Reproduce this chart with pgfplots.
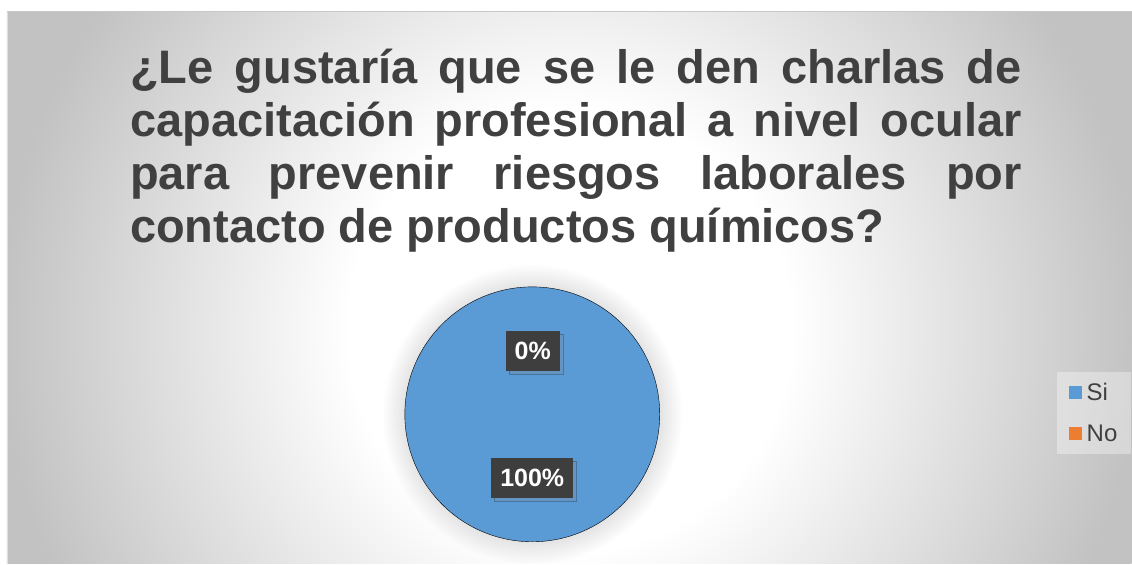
\documentclass[border=0pt]{standalone}
\usepackage{pgfplots}
\pgfplotsset{compat=1.18}
\usepackage{fontspec}
\setmainfont{Liberation Sans}
\usetikzlibrary{shadows,fadings}

\definecolor{siblue}{HTML}{5B9BD5}
\definecolor{noorange}{HTML}{ED7D31}
\definecolor{txt}{HTML}{404040}
\definecolor{lblbox}{HTML}{3E3E3E}

% background: white centre, grey edges (25bp = 700pt here)
\pgfdeclareradialshading{bgrad}{\pgfpoint{0bp}{0bp}}{color(0bp)=(white); color(7.9bp)=(white); color(20.4bp)=(black!24); color(50bp)=(black!24)}

\begin{document}
\begin{tikzpicture}
\begin{axis}[
    width=1132pt, height=564pt,
    scale only axis,
    xmin=0, xmax=1132,
    ymin=0, ymax=564,
    hide axis,
    clip=false,
    legend image code/.code={\fill[#1, fill opacity=1, draw=none] (0pt,-6.5pt) rectangle (13pt,6.5pt);},
    legend cell align=left,
    legend style={
        at={(axis cs:1057,192)}, anchor=north west,
        fill=white, fill opacity=0.35, text opacity=1, draw=none,
        font=\fontsize{24}{28}\selectfont, text=txt,
        inner xsep=12pt, inner ysep=9pt, row sep=19pt,
        /tikz/every odd column/.append style={column sep=3pt},
    },
]
% page and chart area
\fill[white] (axis cs:0,0) rectangle (axis cs:1132,564);
\begin{scope}
\clip (axis cs:7,0) rectangle (axis cs:1132,552);
\shade[shading=bgrad] (axis cs:570,234) circle (700pt);
\end{scope}
\draw[black!22, line width=1pt] (axis cs:7,552) -- (axis cs:1132,552);
\draw[black!12, line width=0.8pt] (axis cs:7,0) -- (axis cs:7,552);

% soft glow behind the pie
\fill[black, opacity=0.14, path fading=circle with fuzzy edge 20 percent] (axis cs:532.5,149.5) circle (150pt);

% pie: Si = 100 %, No = 0 % -> one full slice
\addplot[forget plot, draw=none, only marks, mark=*, mark size=127.5pt, mark options={draw=none, fill=siblue}] coordinates {(532.5,149.5)};

% data labels
\addplot[forget plot, only marks, mark=none, nodes near coords, point meta=explicit symbolic,
    every node near coord/.style={anchor=center, fill=lblbox, text=white,
        font=\bfseries\fontsize{25}{30}\selectfont, minimum height=40pt, inner xsep=9pt,
        drop shadow={shadow xshift=3pt, shadow yshift=-3pt, opacity=0.25}}]
coordinates {(533,213)[0\%] (532.5,86)[100\%]};

% legend
\addlegendimage{fill=siblue}
\addlegendentry{Si}
\addlegendimage{fill=noorange}
\addlegendentry{No}

% title
\node[anchor=base west, inner sep=0, text=txt, font=\bfseries\fontsize{47}{53}\selectfont] at (axis cs:130,480) {\makebox[892pt][s]{¿Le gustaría que se le den charlas de}};
\node[anchor=base west, inner sep=0, text=txt, font=\bfseries\fontsize{47}{53}\selectfont] at (axis cs:130,427) {\makebox[892pt][s]{capacitación profesional a nivel ocular}};
\node[anchor=base west, inner sep=0, text=txt, font=\bfseries\fontsize{47}{53}\selectfont] at (axis cs:130,374) {\makebox[892pt][s]{para prevenir riesgos laborales por}};
\node[anchor=base west, inner sep=0, text=txt, font=\bfseries\fontsize{47}{53}\selectfont] at (axis cs:130,321) {contacto de productos químicos?};
\end{axis}
\end{tikzpicture}
\end{document}
